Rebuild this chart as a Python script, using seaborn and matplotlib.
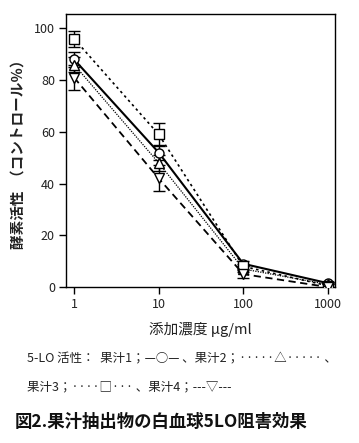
import matplotlib
matplotlib.use("Agg")
import matplotlib.pyplot as plt
import pandas as pd
import seaborn as sns

# data
conc = [1, 10, 100, 1000]
series = ["果汁1", "果汁2", "果汁3", "果汁4"]
juice1 = [88, 52, 9, 1.5]
juice2 = [86, 48, 7, 1.0]
juice3 = [96, 59, 8, 0.5]
juice4 = [81, 42, 5, 0.0]
err1 = [3, 3, 1, 0.5]
err2 = [3, 3, 1, 1.0]
err3 = [3, 4.5, 1, 1.0]
err4 = [5, 5, 1.5, 1.0]

values = [juice1, juice2, juice3, juice4]
errors = [err1, err2, err3, err4]

df = pd.DataFrame({
    "conc": conc * 4,
    "activity": juice1 + juice2 + juice3 + juice4,
    "series": [s for s in series for _ in conc],
})

sns.set_theme(style="white")
plt.rcParams["font.family"] = ["Noto Sans CJK JP", "DejaVu Sans"]

fig = plt.figure(figsize=(3.59, 4.43), dpi=100)
ax = fig.add_axes([0.184, 0.352, 0.749, 0.616])

markers = {"果汁1": "o", "果汁2": "^", "果汁3": "s", "果汁4": "v"}
dashes = {"果汁1": "", "果汁2": (1, 1), "果汁3": (1.5, 2), "果汁4": (4, 2.5)}
widths = {"果汁1": 1.5, "果汁2": 0.9, "果汁3": 1.2, "果汁4": 1.3}

# error bars first so markers sit on top
for vals, errs in zip(values, errors):
    ax.errorbar(conc, vals, yerr=errs, fmt="none", ecolor="black",
                elinewidth=1.0, capsize=4, capthick=1.0, zorder=2)

for s in series:
    sub = df[df["series"] == s]
    sns.lineplot(data=sub, x="conc", y="activity", ax=ax, color="black",
                 marker=markers[s], markersize=6.5, markerfacecolor="white",
                 markeredgecolor="black", markeredgewidth=1.0,
                 linewidth=widths[s], legend=False, zorder=3)
    if dashes[s]:
        ax.lines[-1].set_dashes(dashes[s])

ax.set_xscale("log")
ax.set_xlim(10 ** -0.095, 10 ** 3.083)
ax.set_ylim(0, 105.5)
ax.set_xticks(conc)
ax.set_xticklabels([str(c) for c in conc])
ax.minorticks_off()
ax.set_yticks([0, 20, 40, 60, 80, 100])
ax.tick_params(axis="both", direction="out", length=5, width=1,
               color="black", labelsize=9, labelcolor="#222222",
               bottom=True, left=True, pad=3)
for sp in ax.spines.values():
    sp.set_color("black")
    sp.set_linewidth(1.0)

ax.set_xlabel("添加濃度 μg/ml", fontsize=10.5, labelpad=8, color="#222222")
ax.set_ylabel("酵素活性  （コントロール％）", fontsize=10.5, labelpad=6,
              color="#222222", fontweight="bold")

fig.text(0.075, 0.183, "5-LO 活性：  果汁1；—○— 、果汁2；·····△····· 、",
         fontsize=9, color="#222222")
fig.text(0.075, 0.118, "果汁3；····□··· 、果汁4；---▽---",
         fontsize=9, color="#222222")
fig.text(0.04, 0.035, "図2.果汁抽出物の白血球5LO阻害効果",
         fontsize=12.5, fontweight="bold", color="#111111")

fig.savefig("out.png", dpi=100, facecolor="white")
